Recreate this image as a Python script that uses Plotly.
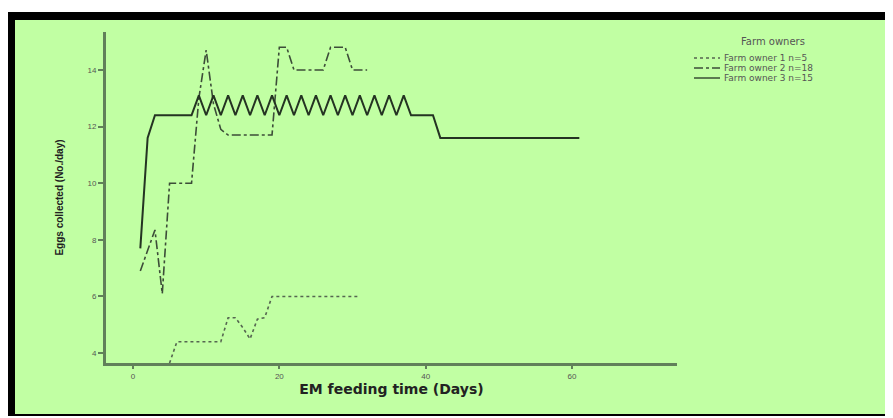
import plotly.graph_objects as go

# ---- data ----
owner1_days = [5, 6, 7, 8, 9, 10, 11, 12, 13, 14, 15, 16, 17, 18, 19, 20, 21, 22, 23, 24, 25, 26, 27, 28, 29, 30, 31]
owner1_eggs = [3.65, 4.4, 4.4, 4.4, 4.4, 4.4, 4.4, 4.4, 5.25, 5.25, 4.9, 4.5, 5.2, 5.25, 6.0, 6.0, 6.0, 6.0, 6.0, 6.0, 6.0, 6.0, 6.0, 6.0, 6.0, 6.0, 6.0]

owner2_days = [1, 2, 3, 4, 5, 6, 7, 8, 9, 10, 11, 12, 13, 14, 15, 16, 17, 18, 19, 20, 21, 22, 23, 24, 25, 26, 27, 28, 29, 30, 31, 32]
owner2_eggs = [6.9, 7.65, 8.35, 6.1, 10.0, 10.0, 10.0, 10.0, 13.0, 14.7, 12.8, 11.9, 11.7, 11.7, 11.7, 11.7, 11.7, 11.7, 11.7, 14.8, 14.8, 14.0, 14.0, 14.0, 14.0, 14.0, 14.8, 14.8, 14.8, 14.0, 14.0, 14.0]

owner3_days = list(range(1, 62))
owner3_eggs = [7.7, 11.6, 12.4, 12.4, 12.4, 12.4, 12.4, 12.4,
               13.1, 12.4, 13.1, 12.4, 13.1, 12.4, 13.1, 12.4, 13.1, 12.4, 13.1, 12.4,
               13.1, 12.4, 13.1, 12.4, 13.1, 12.4, 13.1, 12.4, 13.1, 12.4, 13.1, 12.4,
               13.1, 12.4, 13.1, 12.4, 13.1, 12.4, 12.4, 12.4, 12.4,
               11.6, 11.6, 11.6, 11.6, 11.6, 11.6, 11.6, 11.6, 11.6, 11.6, 11.6, 11.6,
               11.6, 11.6, 11.6, 11.6, 11.6, 11.6, 11.6, 11.6]

series_names = ["Farm owner 1 n=5", "Farm owner 2 n=18", "Farm owner 3 n=15"]
legend_title = "Farm owners"
x_ticks = [0, 20, 40, 60]
y_ticks = [4, 6, 8, 10, 12, 14]
y_tick_text = ["4", "6", "8", "10", "12", "14"]

# ---- layout geometry (screen pixels; page body has an 8px margin) ----
OFF = 8
W, H = 893 - OFF, 418 - OFF
L, R, T, B = 106 - OFF, 677 - OFF, 32 - OFF, 363 - OFF   # plot area in figure pixels
GREEN = "#C1FFA3"
AXIS = "#61805A"
TXT = "#555555"
styles = [dict(color="#556650", width=1.6, dash="dot"),
          dict(color="#3c4d38", width=1.6, dash="dashdot"),
          dict(color="#243322", width=2)]


def px(xs):
    """screen x -> paper x"""
    return (xs - OFF - L) / (R - L)


def py(ys):
    """screen y -> paper y"""
    return (B - (ys - OFF)) / (B - T)


fig = go.Figure()
for name, xs, ys, st in zip(series_names,
                            [owner1_days, owner2_days, owner3_days],
                            [owner1_eggs, owner2_eggs, owner3_eggs], styles):
    fig.add_trace(go.Scatter(x=xs, y=ys, mode="lines", name=name, line=st, showlegend=False))

shapes = [
    dict(type="rect", xref="paper", yref="paper", layer="below",
         x0=px(8), x1=px(890), y0=py(416), y1=py(12), fillcolor="black", line=dict(width=0)),
    dict(type="rect", xref="paper", yref="paper", layer="below",
         x0=px(15), x1=px(888), y0=py(414), y1=py(20), fillcolor=GREEN, line=dict(width=0)),
]
annotations = [
    dict(text=legend_title, xref="paper", yref="paper", x=px(773), y=py(42),
         xanchor="center", yanchor="middle", showarrow=False,
         font=dict(size=10, color=TXT, family="DejaVu Sans, sans-serif")),
]
# hand-built compact legend
for i, (name, st) in enumerate(zip(series_names, styles)):
    yy = 58 + i * 10
    shapes.append(dict(type="line", xref="paper", yref="paper", x0=px(694), x1=px(720),
                       y0=py(yy), y1=py(yy), line=dict(color=st["color"], width=1.3,
                                                        dash=st.get("dash", "solid"))))
    annotations.append(dict(text=name, xref="paper", yref="paper", x=px(722), y=py(yy),
                            xanchor="left", yanchor="middle", showarrow=False,
                            font=dict(size=9, color=TXT, family="DejaVu Sans, sans-serif")))

fig.update_layout(
    width=W, height=H,
    margin=dict(l=L, r=W - R, t=T, b=H - B, pad=0),
    paper_bgcolor="white",
    plot_bgcolor="rgba(0,0,0,0)",
    shapes=shapes,
    annotations=annotations,
    font=dict(family="Arial, Liberation Sans, sans-serif", color=TXT, size=8),
    showlegend=False,
    xaxis=dict(
        range=[-3.69, 74.35], tickvals=x_ticks, ticks="outside", ticklen=3, tickwidth=1.5,
        tickcolor=AXIS, showline=True, linewidth=3, linecolor=AXIS, showgrid=False,
        zeroline=False, tickfont=dict(size=8, color=TXT),
        title=dict(text="<b>EM feeding time (Days)</b>", standoff=4,
                   font=dict(size=14, color="#222222", family="DejaVu Sans, sans-serif")),
    ),
    yaxis=dict(
        range=[3.65, 15.34], tickvals=y_ticks, ticktext=y_tick_text, ticks="outside", ticklen=5,
        tickwidth=1.5, tickcolor=AXIS, showline=True, linewidth=3, linecolor=AXIS,
        showgrid=False, zeroline=False, tickfont=dict(size=8, color=TXT),
        title=dict(text="<b>Eggs collected (No./day)</b>", standoff=22,
                   font=dict(size=10, color="#222222", family="Arial, Liberation Sans, sans-serif")),
    ),
)

fig.write_html("out.html")
